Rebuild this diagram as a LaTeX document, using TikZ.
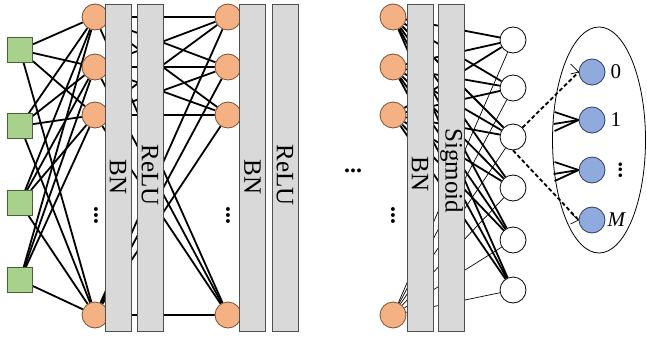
\documentclass[tikz,border=0pt]{standalone}
\usepackage{fontspec}
\setmainfont{Liberation Serif}
\usetikzlibrary{shapes.geometric}
\definecolor{inputgreen}{RGB}{169,209,142}
\definecolor{inputline}{RGB}{70,100,50}
\definecolor{unitfill}{RGB}{244,177,131}
\definecolor{unitline}{RGB}{120,80,50}
\definecolor{barfill}{RGB}{217,217,217}
\definecolor{barline}{RGB}{80,80,80}
\definecolor{classfill}{RGB}{143,170,220}
\definecolor{classline}{RGB}{47,60,90}
\pgfdeclarelayer{wires}
\pgfsetlayers{wires,main}
\begin{document}
\begin{tikzpicture}[x=1pt,y=-1pt,
  conn/.style={line width=1.8pt,black},
  thinconn/.style={line width=0.7pt,black},
  zoomline/.style={line width=1.8pt,black,dash pattern=on 4pt off 2.5pt},
  inbox/.style={draw=inputline,fill=inputgreen,minimum size=25pt,inner sep=0pt,line width=0.8pt},
  unit/.style={circle,draw=unitline,fill=unitfill,minimum size=26pt,inner sep=0pt,line width=0.8pt},
  outunit/.style={circle,draw=black,fill=white,minimum size=26pt,inner sep=0pt,line width=0.8pt},
  classunit/.style={circle,draw=classline,fill=classfill,minimum size=26pt,inner sep=0pt,line width=0.8pt},
  bar/.style={draw=barline,fill=barfill,minimum width=26pt,minimum height=327pt,inner sep=0pt,line width=0.9pt},
  barlabel/.style={rotate=-90,font=\fontsize{25}{28}\selectfont,inner sep=0pt},
  classlabel/.style={anchor=west,font=\fontsize{21}{24}\selectfont,inner sep=1pt},
  dotsl/.style={inner sep=0pt,font=\fontsize{24}{26}\selectfont\bfseries},
  vdotsl/.style={dotsl,rotate=90}
]
\useasboundingbox (0,0) rectangle (647,337);

% input units
\foreach \i/\y in {1/50,2/126,3/203,4/280}
  \node[inbox] (x\i) at (20,\y) {};

% hidden units of the three shown layers
\foreach \i/\y in {1/17,2/67,3/115,4/315}{
  \node[unit] (a\i) at (95,\y) {};
  \node[unit] (b\i) at (228,\y) {};
  \node[unit] (c\i) at (393,\y) {};
}
\node[vdotsl] (ad) at (96,215) {...};
\node[vdotsl] (bd) at (228,215) {...};
\node[vdotsl] (cd) at (393,215) {...};
\node[dotsl] (skip) at (353,171) {...};

% output units
\foreach \i/\y in {1/40,2/88,3/137,4/188,5/240,6/290}
  \node[outunit] (o\i) at (513,\y) {};

% normalisation and activation bars
\node[bar] (bn1) at (118,167.5) {};
\node[bar] (act1) at (150,167.5) {};
\node[bar] (bn2) at (252.5,167.5) {};
\node[bar] (act2) at (285,167.5) {};
\node[bar] (bn3) at (420,167.5) {};
\node[bar] (act3) at (451.5,167.5) {};
\node[barlabel] (bn1t) at (118,177) {BN};
\node[barlabel] (act1t) at (150,175) {ReLU};
\node[barlabel] (bn2t) at (252.5,177) {BN};
\node[barlabel] (act2t) at (285,175) {ReLU};
\node[barlabel] (bn3t) at (420,174) {BN};
\node[barlabel] (act3t) at (451.5,171) {Sigmoid};

% expanded view of one output unit
\node[draw=black,ellipse,minimum width=93pt,minimum height=226pt,line width=0.8pt] (grp) at (599,140) {};
\foreach \i/\y in {0/72,1/120,2/170,3/220}
  \node[classunit] (k\i) at (592,\y) {};
\node[classlabel] (k0t) at ([xshift=4pt]k0.east) {0};
\node[classlabel] (k1t) at ([xshift=4pt]k1.east) {1};
\node[vdotsl,font=\fontsize{22}{24}\selectfont\bfseries] (k2t) at ([xshift=15pt]k2.east) {...};
\node[classlabel] (k3t) at ([xshift=1pt]k3.east) {\textit{M}};

\draw[zoomline] (o3.north east) -- (k0.west);
\draw[zoomline] (o3.south) -- (k3.west);

\foreach \i in {1,2}{
  \draw[conn] ([shift={(-24,-8)}]k\i.west) -- (k\i.west);
  \draw[conn] ([shift={(-25,4)}]k\i.west) -- (k\i.west);
  \draw[conn] ([shift={(-24,11)}]k\i.west) -- (k\i.west);
}
\draw[thinconn] ([shift={(-8,-8)}]k0.west) -- (k0.west);
\draw[thinconn] ([shift={(-8,2)}]k0.west) -- (k0.west);
\draw[thinconn] ([shift={(-8,-7)}]k3.west) -- (k3.west);
\draw[thinconn] ([shift={(-8,4)}]k3.west) -- (k3.west);

% fully connected wiring, kept behind the bars and units
\begin{pgfonlayer}{wires}
  \foreach \i in {1,...,4}
    \foreach \j in {1,...,4}{
      \draw[conn] (x\i) -- (a\j);
      \draw[conn] (a\i) -- (b\j);
    }
  \foreach \i in {1,2,3}
    \foreach \j in {1,...,6}
      \draw[conn] (c\i) -- (o\j);
  \foreach \j in {1,...,6}
    \draw[thinconn] (c4) -- (o\j);
\end{pgfonlayer}
\end{tikzpicture}
\end{document}
